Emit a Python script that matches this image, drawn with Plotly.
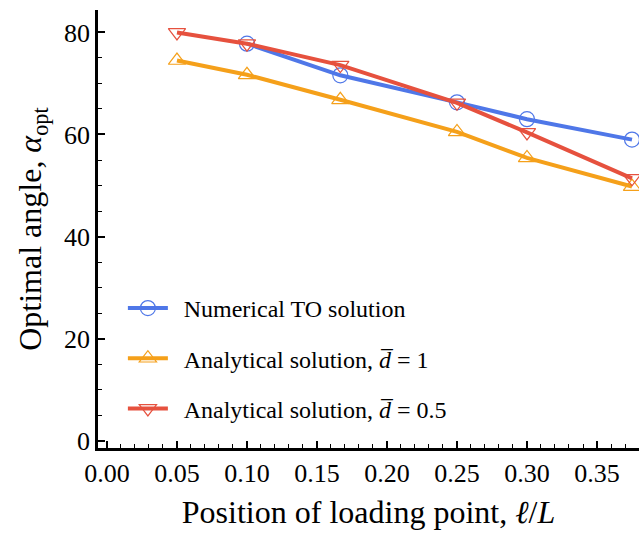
import plotly.graph_objects as go

x_all = [0.05, 0.10, 1/6, 0.25, 0.30, 0.375]
x_num = [0.10, 1/6, 0.25, 0.30, 0.375]
alpha_num = [77.8, 71.6, 66.3, 63.0, 59.0]
alpha_d1 = [74.5, 71.7, 66.8, 60.5, 55.4, 49.8]
alpha_d05 = [80.0, 77.8, 73.6, 66.2, 60.4, 51.4]

x_ticks = [0.00, 0.05, 0.10, 0.15, 0.20, 0.25, 0.30, 0.35]
x_ticklabels = ["0.00", "0.05", "0.10", "0.15", "0.20", "0.25", "0.30", "0.35"]
y_ticks = [0, 20, 40, 60, 80]

blue = "#4F77E8"
orange = "#F5A01A"
red = "#E6513E"
font = "Liberation Serif"
pad = "\u00a0\u2009"

fig = go.Figure()
fig.add_trace(go.Scatter(
    x=x_num, y=alpha_num, mode="lines+markers", name=pad + "Numerical TO solution",
    legendgroup="a",
    line=dict(color=blue, width=4),
    marker=dict(symbol="circle-open", size=15, color=blue, line=dict(width=1.2)),
    cliponaxis=True))
fig.add_trace(go.Scatter(
    x=x_all, y=alpha_d1, mode="lines+markers",
    name=pad + "Analytical solution, <i>d̅</i> = 1", legendgroup="b",
    line=dict(color=orange, width=4),
    marker=dict(symbol="triangle-up-open", size=15, color=orange, line=dict(width=1.2)),
    cliponaxis=True))
fig.add_trace(go.Scatter(
    x=x_all, y=alpha_d05, mode="lines+markers",
    name=pad + "Analytical solution, <i>d̅</i> = 0.5", legendgroup="c",
    line=dict(color=red, width=4),
    marker=dict(symbol="triangle-down-open", size=15, color=red, line=dict(width=1.2)),
    cliponaxis=True))

fig.update_layout(
    width=639, height=535,
    margin=dict(l=98, r=0, t=10, b=87),
    paper_bgcolor="white", plot_bgcolor="white",
    font=dict(family=font, size=22, color="black"),
    legend=dict(x=0.046, y=0.37, xanchor="left", yanchor="top",
                bgcolor="rgba(0,0,0,0)", font=dict(size=24),
                tracegroupgap=16, itemwidth=40, itemsizing="trace"),
    xaxis=dict(range=[-0.0064, 0.38], tickvals=x_ticks, ticktext=x_ticklabels,
               ticks="inside", ticklen=7, tickwidth=1.5, tickcolor="black",
               minor=dict(dtick=0.01, tick0=0, ticks="inside", ticklen=4, tickwidth=1.2, tickcolor="black"),
               showline=True, linecolor="black", linewidth=2.5, showgrid=False, zeroline=False,
               tickfont=dict(size=26),
               title=dict(text="Position of loading point, <i>ℓ</i>/<i>L</i>", font=dict(size=32), standoff=14)),
    yaxis=dict(range=[-1.45, 84.4], tickvals=y_ticks,
               ticks="inside", ticklen=7, tickwidth=1.5, tickcolor="black",
               minor=dict(dtick=5, tick0=0, ticks="inside", ticklen=4, tickwidth=1.2, tickcolor="black"),
               showline=True, linecolor="black", linewidth=2.5, showgrid=False, zeroline=False,
               tickfont=dict(size=26),
               title=dict(text="Optimal angle, <i>α</i><sub>opt</sub>", font=dict(size=32), standoff=13)),
)

fig.write_html("out.html")
